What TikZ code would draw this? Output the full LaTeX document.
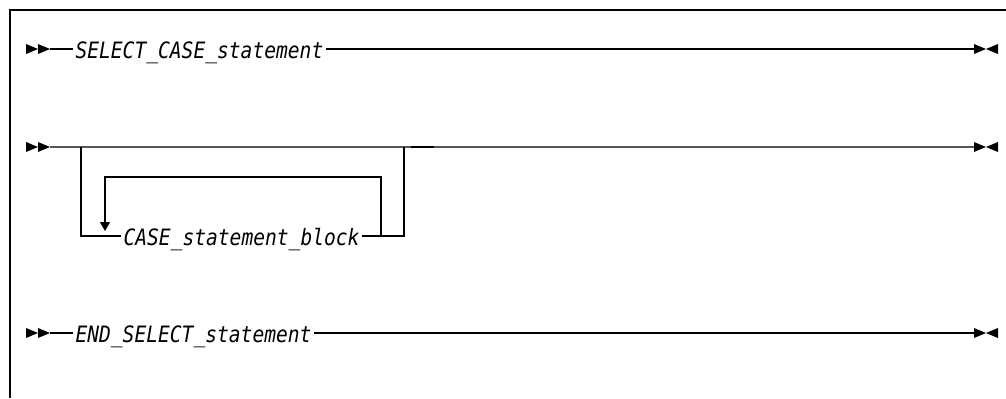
\documentclass[tikz,border=0pt]{standalone}
\usepackage{fontspec}
\usepackage{tikz}
\usetikzlibrary{arrows.meta}
\newfontfamily\railfont{DejaVu Sans Mono}
\definecolor{railgray}{RGB}{85,85,85}
\tikzset{every node/.append style={align=center}}
\newcommand{\railword}[1]{\scalebox{1}[1.15]{#1}}

\begin{document}
\begin{tikzpicture}[x=0.5pt, y=-0.5pt, line width=0.55pt,
  railtext/.style={anchor=base west, inner xsep=1pt, inner ysep=0pt,
    font=\railfont\itshape\fontsize{9.8}{10}\selectfont},
  railtip/.style={-{Triangle[length=4.5pt, width=5pt]}}]

  \useasboundingbox (0,0) rectangle (1006,398);

  % Frame (left and top only)
  \draw[line width=0.6pt] (10,398) -- (10,10) -- (1006,10);

  % Start and end marks of each row
  \foreach \y in {49,147,333} {
    \fill (26,\y-5) -- (38,\y) -- (26,\y+5) -- cycle;
    \fill (38,\y-5) -- (50,\y) -- (38,\y+5) -- cycle;
    \fill (974,\y-5) -- (986,\y) -- (974,\y+5) -- cycle;
    \fill (998,\y-5) -- (986,\y) -- (998,\y+5) -- cycle;
  }

  % === Row 1: SELECT CASE ===
  \coordinate (s1) at (50,49);
  \coordinate (e1) at (974,49);
  \node[railtext] (selcase) at (73,58)
    {\railword{SELECT\_CASE\_statement}};
  \draw (s1) -- (s1 -| selcase.west);
  \draw (selcase.east |- s1) -- (e1);

  % === Row 2: repeated case blocks ===
  \coordinate (s2) at (50,147);
  \coordinate (e2) at (974,147);
  \draw[railgray, line width=0.8pt] (s2) -- (e2);
  \coordinate (d1) at (411,147);
  \coordinate (d2) at (434,147);
  \draw[line width=0.8pt] (d1) -- (d2);
  % Outer branch
  \coordinate (lp) at (81,147);
  \coordinate (rp) at (404,147);
  \coordinate (b2) at (81,236);
  \node[railtext] (caseblk) at (121,245)
    {\railword{CASE\_statement\_block}};
  \draw (lp) -- (b2) -- (b2 -| caseblk.west);
  \draw (caseblk.east |- b2) -- (rp |- b2) -- (rp);
  % Repeat loop
  \coordinate (ir) at (381,177);
  \coordinate (il) at (105,177);
  \coordinate (tip) at (105,231);
  \draw[railtip] (ir |- b2) -- (ir) -- (il) -- (tip);

  % === Row 3: END SELECT ===
  \coordinate (s3) at (50,333);
  \coordinate (e3) at (974,333);
  \node[railtext] (endsel) at (73,342)
    {\railword{END\_SELECT\_statement}};
  \draw (s3) -- (s3 -| endsel.west);
  \draw (endsel.east |- s3) -- (e3);

\end{tikzpicture}
\end{document}
